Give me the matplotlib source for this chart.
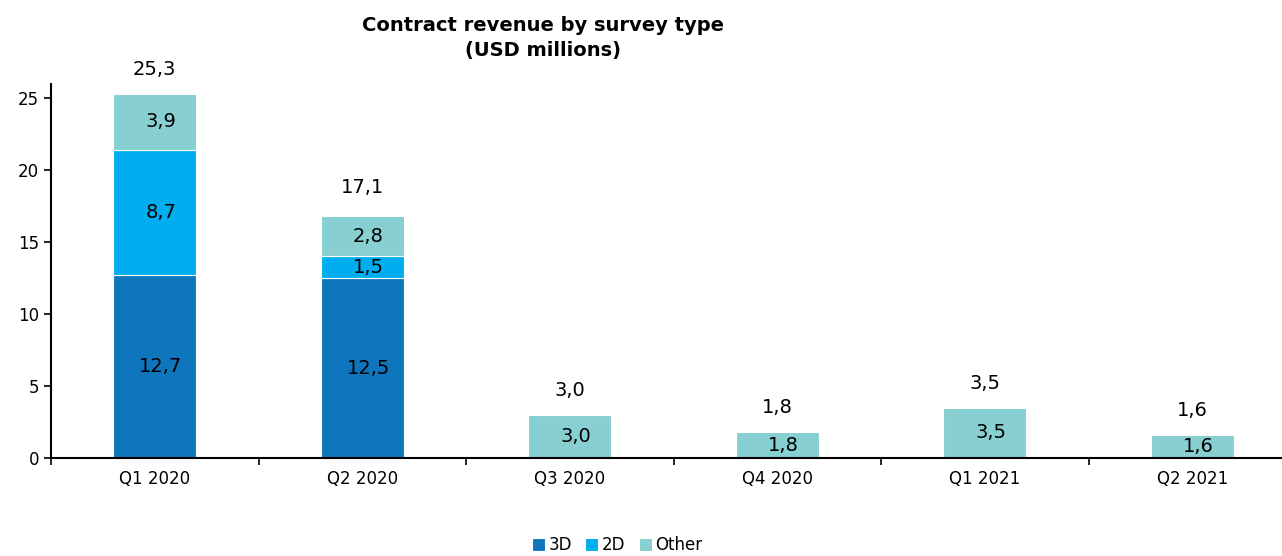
import matplotlib
matplotlib.use('Agg')
import matplotlib.pyplot as plt
import numpy as np

# Datos del gráfico
quarters = ['Q1 2020', 'Q2 2020', 'Q3 2020', 'Q4 2020', 'Q1 2021', 'Q2 2021']
rev_3d = [12.7, 12.5, 0, 0, 0, 0]
rev_2d = [8.7, 1.5, 0, 0, 0, 0]
rev_other = [3.9, 2.8, 3.0, 1.8, 3.5, 1.6]
totals = [25.3, 17.1, 3.0, 1.8, 3.5, 1.6]

colors = {'3D': '#0F75BC', '2D': '#00AEEF', 'Other': '#88CFD1'}

plt.rcParams['font.family'] = ['DejaVu Sans']

def fmt(v):
    return f'{v:.1f}'.replace('.', ',')

fig = plt.figure(figsize=(12.82, 5.56), dpi=100)
ax = fig.add_axes([51 / 1282, 98 / 556, 1245 / 1282, 374.4 / 556])

x = np.arange(len(quarters))
w = 0.4
b3 = np.array(rev_3d)
b2 = np.array(rev_2d)
bo = np.array(rev_other)

ax.bar(x, b3, w, color=colors['3D'], label='3D', edgecolor='white', linewidth=0.8)
ax.bar(x, b2, w, bottom=b3, color=colors['2D'], label='2D', edgecolor='white', linewidth=0.8)
ax.bar(x, bo, w, bottom=b3 + b2, color=colors['Other'], label='Other', edgecolor='white', linewidth=0.8)

# Etiquetas de los segmentos y totales
for i in range(len(quarters)):
    base = 0
    for vals in (b3, b2, bo):
        v = vals[i]
        if v > 0:
            ax.text(x[i] + 0.03, base + v / 2, fmt(v), ha='center', va='center', fontsize=14)
        base += v
    top = max(totals[i], b3[i] + b2[i] + bo[i])
    ax.text(x[i], top + 1.7, fmt(totals[i]), ha='center', va='center', fontsize=14)

ax.set_xlim(-0.5, len(quarters) - 0.5)
ax.set_ylim(0, 26)
ax.set_yticks(range(0, 26, 5))
ax.tick_params(axis='y', labelsize=12, length=5, width=1.2, direction='out')

ax.set_xticks(np.arange(-0.5, len(quarters), 1))
ax.set_xticklabels([])
ax.set_xticks(x, minor=True)
ax.set_xticklabels(quarters, minor=True, fontsize=12)
ax.tick_params(axis='x', which='major', length=5, width=1.2, direction='out')
ax.tick_params(axis='x', which='minor', length=0, pad=9)

for s in ['top', 'right']:
    ax.spines[s].set_visible(False)
ax.spines['left'].set_linewidth(1.5)
ax.spines['bottom'].set_linewidth(1.5)

fig.text(543 / 1282, 1 - 38 / 556, 'Contract revenue by survey type\n(USD millions)',
         ha='center', va='center', fontsize=14, fontweight='bold', linespacing=1.4)

fig.legend(loc='center', bbox_to_anchor=(617 / 1282, 1 - 545 / 556), ncol=3, frameon=False,
           fontsize=12, handlelength=0.8, handleheight=0.8, handletextpad=0.2, columnspacing=0.8)

fig.savefig('out.png', dpi=100)
